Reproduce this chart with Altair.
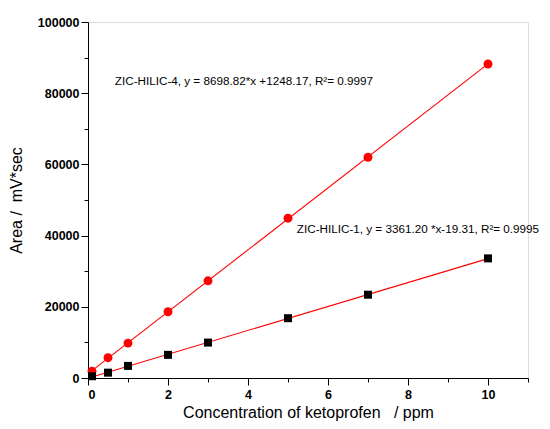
import altair as alt
import pandas as pd

conc = [0.1, 0.5, 1, 2, 3, 5, 7, 10]
hilic4 = [1900, 5700, 9800, 18600, 27300, 44900, 62000, 88200]
hilic1 = [500, 1500, 3400, 6500, 9950, 16800, 23400, 33600]

ann_text = ["ZIC-HILIC-4, y = 8698.82*x +1248.17, R\u00b2= 0.9997",
            "ZIC-HILIC-1, y = 3361.20 *x-19.31, R\u00b2= 0.9995"]
ann_x = [0.67, 5.22]
ann_y = [83400, 41800]

x_major = [0, 2, 4, 6, 8, 10]
x_minor = [1, 3, 5, 7, 9, 11]
y_major = [0, 20000, 40000, 60000, 80000, 100000]
y_minor = [10000, 30000, 50000, 70000, 90000]

df = pd.DataFrame({
    "conc": conc * 2,
    "area": hilic4 + hilic1,
    "series": ["ZIC-HILIC-4"] * len(conc) + ["ZIC-HILIC-1"] * len(conc),
})
ann = pd.DataFrame({"text": ann_text, "x": ann_x, "y": ann_y})

xs = alt.Scale(domain=[0, 11], nice=False, zero=False)
ys = alt.Scale(domain=[0, 100000], nice=False)

lab = dict(labelFont="Liberation Sans", labelFontSize=12.5, labelFontWeight="bold",
           labelColor="black", domainColor="black", tickColor="black",
           grid=False, titleFont="Liberation Sans", titleFontSize=16,
           titleFontWeight="normal", titleColor="black", format="d")

nb = "\u00a0"
xax = alt.Axis(values=x_major, tickSize=7, labelPadding=3, orient="bottom",
               title=f"Concentration of ketoprofen{nb}{nb}{nb}/ ppm", titlePadding=4, **lab)
yax = alt.Axis(values=y_major, tickSize=7, labelPadding=2, orient="left",
               title=f"Area /{nb}{nb}mV*sec", titlePadding=13, **lab)

base = alt.Chart(df)

lines = base.transform_regression(
    "conc", "area", groupby=["series"], extent=[0.1, 10]
).mark_line(color="#ff0000", strokeWidth=1.1).encode(
    x=alt.X("conc:Q", scale=xs, axis=xax),
    y=alt.Y("area:Q", scale=ys, axis=yax),
    detail="series:N",
)

red = base.transform_filter(alt.datum.series == "ZIC-HILIC-4").mark_point(
    shape="circle", filled=True, color="#ff0000", size=80, opacity=1
).encode(x=alt.X("conc:Q", scale=xs, axis=None), y=alt.Y("area:Q", scale=ys, axis=None))

black = base.transform_filter(alt.datum.series == "ZIC-HILIC-1").mark_point(
    shape="square", filled=True, color="black", size=64, opacity=1
).encode(x=alt.X("conc:Q", scale=xs, axis=None), y=alt.Y("area:Q", scale=ys, axis=None))

minor = base.mark_point(opacity=0).encode(
    x=alt.X("conc:Q", scale=xs,
            axis=alt.Axis(values=x_minor, tickSize=4, labels=False, title=None,
                          orient="bottom", domain=False, tickColor="black", grid=False)),
    y=alt.Y("area:Q", scale=ys,
            axis=alt.Axis(values=y_minor, tickSize=4, labels=False, title=None,
                          orient="left", domain=False, tickColor="black", grid=False)),
)

texts = alt.Chart(ann).mark_text(
    align="left", baseline="middle", font="Liberation Sans", fontSize=11.7, color="black"
).encode(x=alt.X("x:Q", scale=xs, axis=None), y=alt.Y("y:Q", scale=ys, axis=None),
         text="text:N")

chart = alt.layer(lines, minor, red, black, texts).resolve_axis(
    x="independent", y="independent"
).properties(
    width=440, height=356,
    autosize=alt.AutoSizeParams(type="none"),
    padding={"left": 80, "top": 14, "right": 14, "bottom": 43},
).configure_view(stroke=None).configure(background="white")

chart.save("out.html", embed_options={"renderer": "svg", "actions": False})
